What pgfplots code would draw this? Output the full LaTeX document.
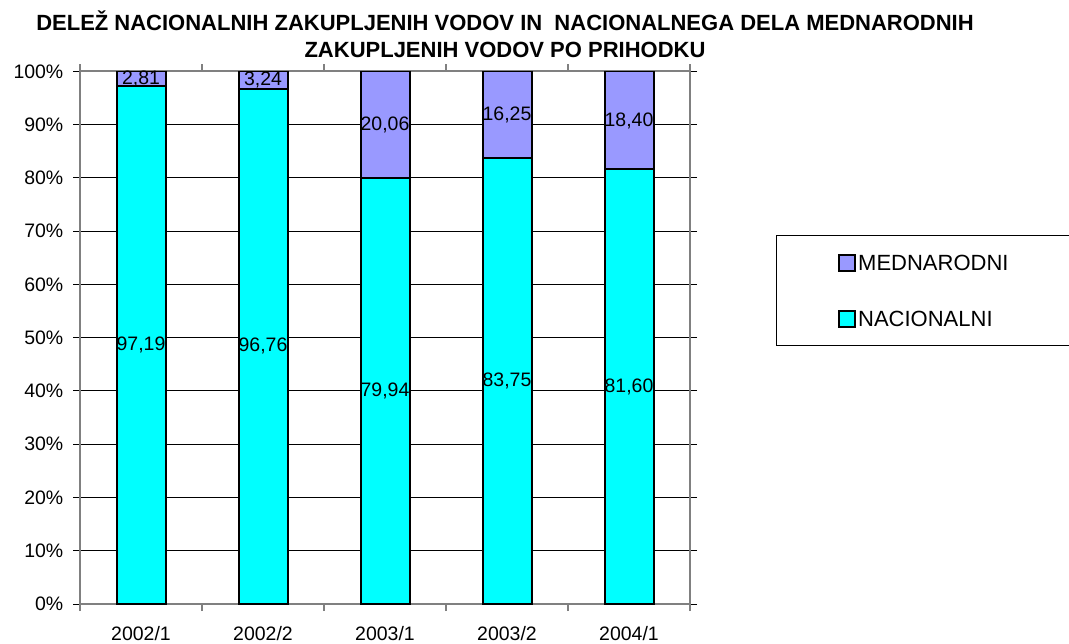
\documentclass[border=0pt]{standalone}
\usepackage{pgfplots}
\pgfplotsset{compat=1.18}
\usepackage{fontspec}
\setmainfont{Liberation Sans}
\definecolor{nac}{RGB}{0,255,255}
\definecolor{med}{RGB}{153,153,255}
\definecolor{axgray}{RGB}{128,128,128}
\newcommand{\tickfont}{\fontsize{14.6}{17}\selectfont}
\begin{document}
\begin{tikzpicture}
\path[use as bounding box] (0,0) rectangle (801.75pt,482.25pt);
\node[font=\bfseries\fontsize{16.5}{19}\selectfont] at (378.75pt,466.5pt) {DELEŽ NACIONALNIH ZAKUPLJENIH VODOV IN\ \ NACIONALNEGA DELA MEDNARODNIH};
\node[font=\bfseries\fontsize{16.5}{19}\selectfont] at (378.75pt,445pt) {ZAKUPLJENIH VODOV PO PRIHODKU};
\begin{axis}[
  at={(60pt,29.25pt)}, anchor=south west,
  scale only axis, width=457.5pt, height=399.4pt,
  ybar stacked, bar width=36.75pt,
  xmin=-0.5, xmax=4.5, ymin=0, ymax=100,
  xtick={-0.5,0.5,1.5,2.5,3.5,4.5},
  x tick label as interval,
  xticklabels={2002/1,2002/2,2003/1,2003/2,2004/1},
  ytick={0,10,20,30,40,50,60,70,80,90,100},
  yticklabels={0\%,10\%,20\%,30\%,40\%,50\%,60\%,70\%,80\%,90\%,100\%},
  ymajorgrids, grid style={black, line width=0.75pt},
  tick align=outside, major tick length=5.25pt,
  xtick style={draw=axgray, line width=1.5pt},
  ytick style={draw=black, line width=0.75pt},
  axis line style={draw=axgray, line width=1.5pt},
  ticklabel style={font=\tickfont},
  xticklabel style={yshift=-8pt},
  yticklabel style={xshift=-3.75pt},
  reverse legend,
  legend cell align=left,
  legend style={at={(1.141,0.692)}, anchor=north west, draw=black, line width=0.75pt,
    font=\fontsize{16.5}{19}\selectfont, inner xsep=0pt, inner ysep=13.5pt, row sep=28.5pt,
    column sep=2pt,
    nodes={inner sep=0pt, text height=12pt, text depth=0pt}},
  legend image code/.code={\path[draw=none, fill=none] (0pt,0pt) -- (46.5pt,0pt);
    \draw[#1, draw=black, line width=1.5pt] (46.5pt,-6pt) rectangle (58.5pt,6pt);},
]
\addplot[fill=nac, draw=black, line width=1.5pt] coordinates {(0,97.19) (1,96.76) (2,79.94) (3,83.75) (4,81.60)};
\addplot[fill=med, draw=black, line width=1.5pt] coordinates {(0,2.81) (1,3.24) (2,20.06) (3,16.25) (4,18.40)};
\legend{\makebox[170pt][l]{NACIONALNI}, \makebox[170pt][l]{MEDNARODNI}}
\end{axis}
\begin{axis}[
  at={(60pt,29.25pt)}, anchor=south west,
  scale only axis, width=457.5pt, height=399.4pt,
  xmin=-0.5, xmax=4.5, ymin=0, ymax=100, hide axis,
]
\addplot[draw=none, mark=none, nodes near coords, point meta=explicit symbolic,
  every node near coord/.append style={anchor=center, font=\tickfont, inner sep=0pt}]
  coordinates {(0,48.595) [97,19] (1,48.38) [96,76] (2,39.97) [79,94] (3,41.875) [83,75] (4,40.8) [81,60]
  (0,98.595) [2,81] (1,98.38) [3,24] (2,89.97) [20,06] (3,91.875) [16,25] (4,90.8) [18,40]};
\end{axis}
\end{tikzpicture}
\end{document}
